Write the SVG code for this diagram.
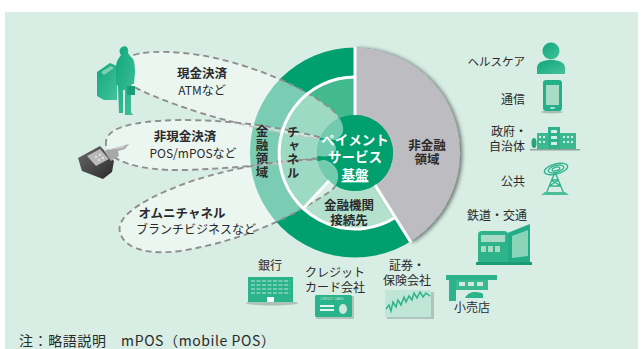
<svg xmlns="http://www.w3.org/2000/svg" width="643" height="349" viewBox="0 0 643 349">
  <defs>
    <style>
      .lbl { font-family: "Noto Sans CJK JP", "Noto Sans", sans-serif; fill: #2a2a2a; }
      .b { font-weight: bold; }
      .c { text-anchor: middle; }
      .r { text-anchor: end; }
      .vt { writing-mode: vertical-rl; text-anchor: middle; font-weight: bold; letter-spacing: 1px; }
      .wt { fill: #ffffff; font-weight: bold; }
      .callout { fill: #ffffff; fill-opacity: 0.48; stroke: #8f8f8f; stroke-width: 1.9; stroke-dasharray: 6 4; }
      .lobe { fill: #ffffff; fill-opacity: 0.45; }
      .wline { stroke: #ffffff; stroke-width: 3; fill: none; }
      .ig { fill: #22b088; }
    </style>
    <filter id="shadow" x="-20%" y="-20%" width="140%" height="140%">
      <feGaussianBlur in="SourceAlpha" stdDeviation="2"/>
      <feOffset dx="2" dy="1" result="o"/>
      <feComponentTransfer><feFuncA type="linear" slope="0.55"/></feComponentTransfer>
      <feMerge><feMergeNode/><feMergeNode in="SourceGraphic"/></feMerge>
    </filter>
    <clipPath id="coreClip"><circle cx="355" cy="153" r="38"/></clipPath>
    <linearGradient id="gIcon" x1="0" y1="0" x2="1" y2="1">
      <stop offset="0" stop-color="#0fa67c"/>
      <stop offset="1" stop-color="#45c29c"/>
    </linearGradient>
    <linearGradient id="gPos" x1="0" y1="0" x2="1" y2="1">
      <stop offset="0" stop-color="#6a6a6a"/>
      <stop offset="1" stop-color="#2a2a2a"/>
    </linearGradient>
  </defs>

  <!-- page background -->
  <rect x="0" y="0" width="643" height="349" fill="#ffffff"/>
  <rect x="5" y="12" width="633" height="337" fill="#d8ede4"/>

  <!-- payment service ring -->
  <g id="ring">
    <circle cx="355" cy="152.5" r="105" fill="#00a06e"/>
    <!-- channel band -->
    <path d="M 303.2,208.6 A 76 76 0 0 1 355,77 L 355,115 A 38 38 0 0 0 329.1,180.8 Z" fill="#43b98f"/>
    <!-- bank connection band -->
    <path d="M 395.3,217.5 A 76 76 0 0 1 303.2,208.6 L 329.1,180.8 A 38 38 0 0 0 375.1,185.2 Z" fill="#b3e1cd"/>
    <!-- non-financial sector -->
    <path d="M 355,47.5 A 105 105 0 0 1 410.6,241.6 L 375.1,185.2 A 38 38 0 0 0 355,115 Z" fill="#bcbcc1" filter="url(#shadow)"/>
  </g>

  <!-- dashed callouts -->
  <g id="connectors">
    <path id="c-cash" class="callout" d="M 118,66 C 122,50 170,48 215,58 C 255,67 300,85 330,108 C 345,120 348,135 335,140 C 300,138 230,124 180,106 C 140,92 115,80 118,66 Z"/>
    <path id="c-cashless" class="callout" d="M 106,145 C 104,128 130,121 180,120 C 230,120 280,126 330,140 C 338,145 338,152 330,156 C 290,163 240,168 185,170 C 135,171 108,160 106,145 Z"/>
    <path id="c-omni" class="callout" d="M 120,232 C 115,215 150,195 195,180 C 240,166 290,158 325,160 C 340,165 342,180 332,190 C 300,212 250,240 180,251 C 140,256 123,245 120,232 Z"/>
  </g>

  <!-- ring separators -->
  <g id="separators">
    <path class="wline" d="M 395.3,217.5 A 76 76 0 1 1 355,77"/>
    <line class="wline" x1="355" y1="47" x2="355" y2="116"/>
    <line class="wline" x1="374.6" y1="184.4" x2="411" y2="242.5"/>
    <line class="wline" x1="329.8" y1="180" x2="302.5" y2="209.3"/>
  </g>

  <!-- core -->
  <g id="core">
    <circle cx="355" cy="153" r="38" fill="#00a06e"/>
    <g clip-path="url(#coreClip)">
      <path class="lobe" d="M 330,108 C 345,120 348,135 335,140 C 300,138 300,120 330,108 Z"/>
      <path class="lobe" d="M 330,140 C 338,145 338,152 330,156 C 300,160 300,136 330,140 Z"/>
      <path class="lobe" d="M 325,160 C 340,165 342,180 332,190 C 305,200 300,160 325,160 Z"/>
    </g>
    <text class="lbl wt c" font-size="13.5" x="355" y="145">ペイメント</text>
    <text class="lbl wt c" font-size="13.5" x="355" y="162">サービス</text>
    <text class="lbl wt c" font-size="13.5" x="355" y="180" text-decoration="underline">基盤</text>
  </g>

  <g id="sector-labels">
    <text class="lbl vt" font-size="12.5" x="262" y="152">金融領域</text>
    <text class="lbl vt" font-size="12.5" x="293" y="153">チャネル</text>
    <text class="lbl b c" font-size="12.5" x="427" y="150">非金融</text>
    <text class="lbl b c" font-size="12.5" x="427" y="164">領域</text>
    <text class="lbl b c" font-size="12.5" x="349" y="210">金融機関</text>
    <text class="lbl b c" font-size="12.5" x="349" y="225">接続先</text>
  </g>

  <!-- left channels -->
  <g id="cash">
    <path fill="url(#gIcon)" d="M 97,72 L 110,63 L 117,66 L 117,100 L 104,100 L 97,96 Z"/>
    <path fill="#7fd0b3" d="M 101,72 L 111,66 L 114,68 L 104,75 Z"/>
    <path fill="url(#gIcon)" d="M 122,47 C 126,45 129,48 128,53 L 130,56 C 134,58 135,64 135,72 L 134,84 L 131,84 L 131,112 L 133,115 L 125,115 L 125,90 L 123,90 L 123,113 L 119,113 L 118,86 L 116,84 L 116,66 C 117,59 120,57 121,55 C 119,52 119,49 122,47 Z"/>
    <rect x="127" y="86" width="8" height="9" fill="#1a9e78"/>
    <text class="lbl b c" font-size="12.5" x="202" y="78">現金決済</text>
    <text class="lbl c" font-size="12" x="202" y="95">ATMなど</text>
  </g>
  <g id="cashless">
    <path fill="url(#gPos)" d="M 78,158 L 100,146 L 114,161 L 112,172 L 103,179 L 82,171 Z"/>
    <path fill="#b9b9b9" d="M 87,156 L 100,149 L 109,159 L 96,166 Z"/>
    <g fill="#e0e0e0"><rect x="95" y="156" width="2" height="2"/><rect x="99" y="154" width="2" height="2"/><rect x="98" y="159" width="2" height="2"/><rect x="102" y="157" width="2" height="2"/></g>
    <path fill="#a8a8a8" d="M 104,151 L 129,144 L 125,149 L 118,151 L 119,156 L 111,161 Z"/>
    <path fill="#d2d2d2" d="M 108,150 L 126,145 L 123,148 Z"/>
    <text class="lbl b c" font-size="12.5" x="185" y="141">非現金決済</text>
    <text class="lbl c" font-size="12" x="193" y="158">POS/mPOSなど</text>
  </g>
  <g id="omni">
    <text class="lbl b c" font-size="12.5" x="182" y="218">オムニチャネル</text>
    <text class="lbl c" font-size="12" x="196" y="234">ブランチビジネスなど</text>
  </g>

  <!-- non-financial sectors -->
  <g id="healthcare">
    <text class="lbl r" font-size="11.5" x="525" y="66">ヘルスケア</text>
    <circle cx="551" cy="51" r="8.5" fill="url(#gIcon)"/>
    <path fill="url(#gIcon)" d="M 537,74 L 537,68 C 537,62 544,60 551,60 C 558,60 565,62 565,68 L 565,74 Z"/>
  </g>
  <g id="telecom">
    <text class="lbl r" font-size="12" x="525" y="104">通信</text>
    <ellipse cx="552" cy="112" rx="11" ry="1.5" fill="#8a9a94" opacity="0.6"/>
    <rect x="543" y="80" width="19" height="31" rx="3" class="ig"/>
    <rect x="546" y="85" width="13" height="20" fill="#a9dcc7"/>
    <rect x="550" y="107" width="5" height="2" rx="1" fill="#a9dcc7"/>
  </g>
  <g id="government">
    <text class="lbl r" font-size="12" x="527" y="136">政府・</text>
    <text class="lbl r" font-size="12" x="525" y="151">自治体</text>
    <rect x="537" y="133" width="11" height="17" fill="#3cb991"/>
    <rect x="548" y="127" width="12" height="23" fill="#2fb189"/>
    <rect x="560" y="133" width="16" height="17" fill="#3cb991"/>
    <g fill="#d6efe4">
      <rect x="539" y="136" width="2" height="2"/><rect x="543" y="136" width="2" height="2"/>
      <rect x="539" y="141" width="2" height="2"/><rect x="543" y="141" width="2" height="2"/>
      <rect x="551" y="130" width="6" height="3"/><rect x="551" y="136" width="6" height="3"/><rect x="551" y="142" width="6" height="3"/>
      <rect x="563" y="136" width="2" height="2"/><rect x="567" y="136" width="2" height="2"/><rect x="571" y="136" width="2" height="2"/>
      <rect x="563" y="141" width="2" height="2"/><rect x="567" y="141" width="2" height="2"/><rect x="571" y="141" width="2" height="2"/>
    </g>
    <ellipse cx="534" cy="143" rx="2.5" ry="5" fill="#22a67f"/>
    <rect x="530" y="149" width="50" height="1.5" fill="#8fa39b"/>
  </g>
  <g id="public">
    <text class="lbl r" font-size="12" x="525" y="186">公共</text>
    <g fill="none" stroke="#2db38b" stroke-width="1.3">
      <ellipse cx="556" cy="169" rx="12" ry="5" transform="rotate(-15 556 169)"/>
      <ellipse cx="556" cy="169" rx="8" ry="3.4" transform="rotate(-15 556 169)"/>
      <ellipse cx="556" cy="169" rx="4" ry="1.8" transform="rotate(-15 556 169)"/>
      <path d="M 555,172 L 546,194 M 555,172 L 564,194 M 549,186 L 561,186 M 551,180 L 559,180 M 549,186 L 559,180 M 551,180 L 561,186"/>
    </g>
    <path d="M 541,195 L 569,195 L 565,192 L 545,192 Z" fill="#4cbf98"/>
  </g>
  <g id="rail">
    <text class="lbl c" font-size="12" x="497" y="220">鉄道・交通</text>
    <path fill="#22ad86" d="M 505,234 L 530,224 L 530,262 L 505,262 Z"/>
    <path fill="#8ad4b9" d="M 512,236 L 528,230 L 528,256 L 512,258 Z"/>
    <rect x="478" y="231" width="30" height="33" rx="4" fill="#2fb38b"/>
    <rect x="481" y="235" width="24" height="7" fill="#a6dbc5"/>
    <g fill="#a6dbc5">
      <rect x="481" y="246" width="5" height="6"/><rect x="488" y="246" width="5" height="6"/><rect x="495" y="246" width="5" height="6"/>
    </g>
    <rect x="476" y="262" width="56" height="3" fill="#1c9c76"/>
  </g>

  <!-- financial institutions -->
  <g id="bank">
    <text class="lbl c" font-size="12" x="270" y="270">銀行</text>
    <ellipse cx="272" cy="303" rx="26" ry="2.5" fill="#8fa39b" opacity="0.6"/>
    <rect x="248" y="277" width="45" height="25" fill="#2bb38b"/>
    <g stroke="#bfe6d6" stroke-width="1" stroke-dasharray="4 1.5">
      <line x1="251" y1="281" x2="290" y2="281"/>
      <line x1="251" y1="285" x2="290" y2="285"/>
      <line x1="251" y1="289" x2="290" y2="289"/>
      <line x1="251" y1="293" x2="290" y2="293"/>
    </g>
    <rect x="267" y="297" width="7" height="5" fill="#ffffff"/>
  </g>
  <g id="card">
    <text class="lbl c" font-size="12" x="335" y="277">クレジット</text>
    <text class="lbl c" font-size="12" x="335" y="292">カード会社</text>
    <rect x="316" y="296" width="38" height="23" rx="1.5" fill="#8a9a94" opacity="0.5"/>
    <rect x="315" y="295" width="37" height="22" rx="1.5" fill="#2bb38b"/>
    <text x="320" y="300" font-family="Liberation Sans, sans-serif" font-size="3.5" fill="#bfe6d6">CREDIT CARD</text>
    <rect x="320" y="305" width="14" height="2" fill="#e3f4ec"/>
    <rect x="320" y="309" width="14" height="2" fill="#e3f4ec"/>
    <ellipse cx="343" cy="309" rx="4" ry="5" fill="#cdeadd"/>
  </g>
  <g id="securities">
    <text class="lbl c" font-size="12" x="407" y="270">証券・</text>
    <text class="lbl c" font-size="12" x="407" y="285">保険会社</text>
    <rect x="387" y="292" width="47" height="27" fill="#8a9a94" opacity="0.5"/>
    <rect x="385" y="290" width="46" height="27" fill="#bfe6d6"/>
    <polyline fill="none" stroke="#2bb38b" stroke-width="1.5" points="386,309 389,305 391,311 393,302 396,307 398,300 401,305 404,297 406,302 409,296 412,300 414,293 417,298 420,292 423,297 426,293 430,296"/>
  </g>
  <g id="retail">
    <rect x="446" y="275" width="51" height="5" fill="#2bb38b"/>
    <path fill="#2bb38b" d="M 449,280 L 456,280 L 456,301 L 449,301 Z"/>
    <rect x="456" y="280" width="32" height="10" fill="#3cb991"/>
    <g fill="#cfeadf"><rect x="459" y="282" width="6" height="4"/><rect x="468" y="282" width="6" height="4"/><rect x="477" y="282" width="6" height="4"/></g>
    <path fill="#2bb38b" d="M 465,298 C 468,291 478,291 483,294 L 483,298 Z"/>
    <text class="lbl c" font-size="12" x="472" y="312">小売店</text>
  </g>

  <text class="lbl" font-size="14" x="19" y="346" fill="#333" textLength="256" lengthAdjust="spacing">注：略語説明　mPOS（mobile POS）</text>
</svg>
